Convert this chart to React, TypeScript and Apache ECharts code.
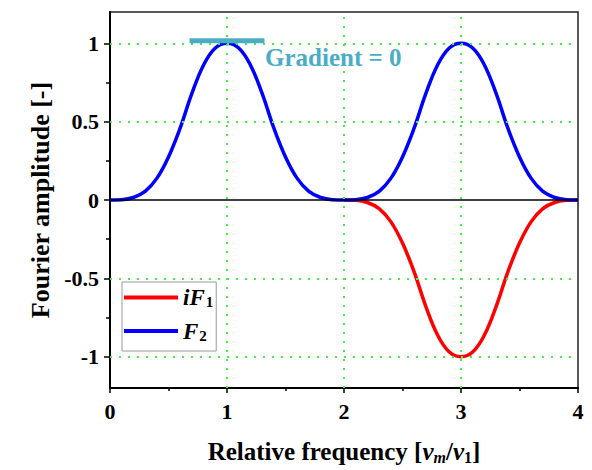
import React, { useEffect, useRef } from 'react';
import * as echarts from 'echarts';

// Relative frequency (x)
const freq = [
  0.0, 0.1, 0.2, 0.3, 0.4, 0.5, 0.6, 0.7, 0.8, 0.9,
  1.0, 1.1, 1.2, 1.3, 1.4, 1.5, 1.6, 1.7, 1.8, 1.9,
  2.0, 2.1, 2.2, 2.3, 2.4, 2.5, 2.6, 2.7, 2.8, 2.9,
  3.0, 3.1, 3.2, 3.3, 3.4, 3.5, 3.6, 3.7, 3.8, 3.9,
  4.0,
];

// iF1 (red) — not visible below x = 2
const iF1 = [
  null, null, null, null, null, null, null, null, null, null,
  null, null, null, null, null, null, null, null, null, null,
  0, -0.002, -0.016, -0.055, -0.138, -0.275, -0.46, -0.68, -0.862, -0.97,
  -1.0, -0.97, -0.862, -0.68, -0.46, -0.275, -0.138, -0.055, -0.016, -0.002,
  0,
];

// F2 (blue)
const F2 = [
  0, 0.002, 0.016, 0.055, 0.138, 0.275, 0.46, 0.68, 0.862, 0.97,
  1.0, 0.97, 0.862, 0.68, 0.46, 0.275, 0.138, 0.055, 0.016, 0.002,
  0, 0.002, 0.016, 0.055, 0.138, 0.275, 0.46, 0.68, 0.862, 0.97,
  1.0, 0.97, 0.862, 0.68, 0.46, 0.275, 0.138, 0.055, 0.016, 0.002,
  0,
];

// "Gradient = 0" marker bar
const gradientX = [0.68, 1.32];
const gradientY = 1.016;

// Axis ticks and grid lines
const yMajor = [-1, -0.5, 0, 0.5, 1];
const yMinor = [-0.75, -0.25, 0.25, 0.75];
const yGridLines = [-1, -0.5, 0.5, 1];
const xGridLines = [1, 2, 3];

const FONT = "'Liberation Serif', 'Times New Roman', serif";

export default function App() {
  const ref = useRef<HTMLDivElement>(null);

  useEffect(() => {
    if (!ref.current) return;
    const chart = echarts.init(ref.current, undefined, { renderer: 'svg' });

    const zip = (xs: number[], ys: (number | null)[]) => xs.map((x, i) => [x, ys[i]]);
    const gridStyle = { color: '#44ee44', width: 2, type: [2, 7] };

    const option: any = {
      animation: false,
      backgroundColor: '#ffffff',
      grid: {
        left: 110,
        top: 12,
        width: 468,
        height: 376,
        show: true,
        borderColor: '#222',
        borderWidth: 1.5,
        backgroundColor: 'transparent',
      },
      legend: {
        orient: 'vertical',
        left: 122,
        top: 282,
        data: ['iF1', 'F2'],
        icon: 'rect',
        itemWidth: 54,
        itemHeight: 4,
        itemGap: 10,
        padding: [4, 3, 8, 2],
        borderColor: '#999',
        borderWidth: 1,
        formatter: (name: string) =>
          name === 'iF1' ? '{it|iF}{sub|1}' : '{it|F}{sub|2}',
        textStyle: {
          fontFamily: FONT,
          fontSize: 23,
          fontWeight: 'bold',
          color: '#000',
          rich: {
            it: {
              fontFamily: FONT,
              fontSize: 23,
              fontWeight: 'bold',
              fontStyle: 'italic',
              color: '#000',
              lineHeight: 24,
            },
            sub: {
              fontFamily: FONT,
              fontSize: 15,
              fontWeight: 'bold',
              color: '#000',
              verticalAlign: 'bottom',
              lineHeight: 12,
              padding: [6, 0, 0, 1],
            },
          },
        },
      },
      xAxis: {
        type: 'value',
        min: 0,
        max: 4,
        interval: 1,
        name: '{n|Relative frequency [}{g|ν}{gs|m}{n|/}{g|ν}{s|1}{n|]}',
        nameLocation: 'middle',
        nameGap: 49,
        nameTextStyle: {
          fontFamily: FONT,
          fontSize: 25,
          fontWeight: 'bold',
          color: '#000',
          rich: {
            n: { fontFamily: FONT, fontSize: 25, fontWeight: 'bold', color: '#000', lineHeight: 28 },
            g: { fontFamily: FONT, fontSize: 25, fontWeight: 'bold', fontStyle: 'italic', color: '#000', lineHeight: 28 },
            gs: { fontFamily: FONT, fontSize: 16, fontWeight: 'bold', fontStyle: 'italic', color: '#000', verticalAlign: 'bottom', lineHeight: 14, padding: [8, 0, 0, 0] },
            s: { fontFamily: FONT, fontSize: 16, fontWeight: 'bold', color: '#000', verticalAlign: 'bottom', lineHeight: 14, padding: [8, 0, 0, 0] },
          },
        },
        axisLine: { show: true, onZero: false, lineStyle: { color: '#000', width: 2 } },
        axisTick: { show: true, inside: false, length: 5, lineStyle: { color: '#000', width: 1.5 } },
        minorTick: { show: true, splitNumber: 2, length: 3, lineStyle: { color: '#000', width: 1.5 } },
        axisLabel: {
          fontFamily: FONT,
          fontSize: 22,
          fontWeight: 'bold',
          color: '#000',
          margin: 12,
        },
        splitLine: { show: false },
        minorSplitLine: { show: false },
      },
      yAxis: [
        {
          type: 'value',
          min: -1.2,
          max: 1.2,
          name: 'Fourier amplitude [-]',
          nameLocation: 'middle',
          nameGap: 55,
          nameTextStyle: {
            fontFamily: FONT,
            fontSize: 26,
            fontWeight: 'bold',
            color: '#000',
          },
          axisLine: { show: true, onZero: false, lineStyle: { color: '#000', width: 2 } },
          axisTick: {
            show: true,
            inside: false,
            length: 6,
            customValues: yMajor,
            lineStyle: { color: '#000', width: 1.5 },
          },
          axisLabel: {
            customValues: yMajor,
            fontFamily: FONT,
            fontSize: 22,
            fontWeight: 'bold',
            color: '#000',
            margin: 11,
            formatter: (v: number) => String(v),
          },
          splitLine: { show: false },
        },
        {
          type: 'value',
          min: -1.2,
          max: 1.2,
          position: 'left',
          axisLine: { show: false, onZero: false },
          axisTick: {
            show: true,
            inside: false,
            length: 4,
            customValues: yMinor,
            lineStyle: { color: '#000', width: 1.5 },
          },
          axisLabel: { show: false },
          splitLine: { show: false },
        },
      ],
      graphic: [
        {
          type: 'text',
          left: 265,
          top: 45,
          style: {
            text: 'Gradient = 0',
            fontFamily: FONT,
            fontSize: 25,
            fontWeight: 'bold',
            fill: '#4bacc6',
          },
          z: 10,
        },
      ],
      series: [
        {
          name: 'grid',
          type: 'line',
          data: [],
          silent: true,
          z: 1,
          markLine: {
            silent: true,
            symbol: ['none', 'none'],
            label: { show: false },
            animation: false,
            data: [
              ...yGridLines.map((v) => ({ yAxis: v, lineStyle: gridStyle })),
              ...xGridLines.map((v) => ({ xAxis: v, lineStyle: gridStyle })),
              { yAxis: 0, lineStyle: { color: '#000', width: 1.5, type: 'solid' } },
            ],
          },
        },
        {
          name: 'iF1',
          type: 'line',
          data: zip(freq, iF1),
          smooth: 0.4,
          connectNulls: false,
          showSymbol: false,
          symbol: 'none',
          color: '#ff0000',
          lineStyle: { color: '#ff0000', width: 3.5 },
          z: 3,
        },
        {
          name: 'F2',
          type: 'line',
          data: zip(freq, F2),
          smooth: 0.4,
          showSymbol: false,
          symbol: 'none',
          color: '#0000ff',
          lineStyle: { color: '#0000ff', width: 3.5 },
          z: 4,
        },
        {
          name: 'gradient',
          type: 'line',
          data: gradientX.map((x) => [x, gradientY]),
          showSymbol: false,
          symbol: 'none',
          color: '#4bacc6',
          lineStyle: { color: '#4bacc6', width: 5, cap: 'butt' },
          z: 5,
        },
      ],
    };

    chart.setOption(option);
    return () => chart.dispose();
  }, []);

  return <div ref={ref} style={{ width: 592, height: 470, marginLeft: -8, marginTop: -8 }} />;
}
